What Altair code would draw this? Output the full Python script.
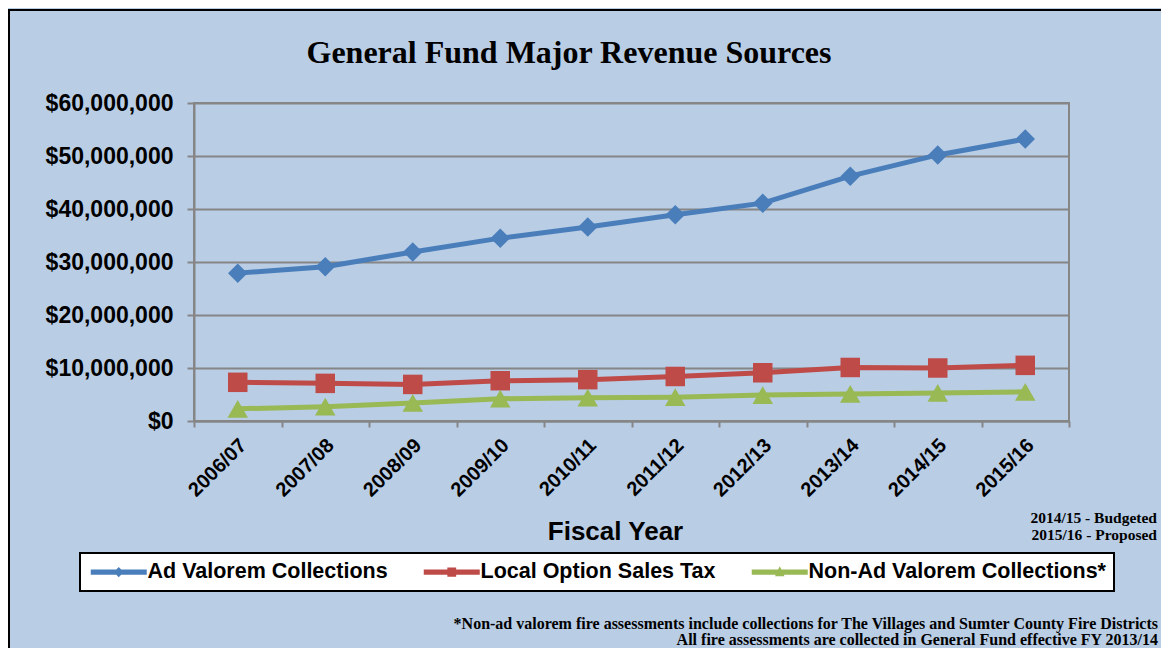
import altair as alt
import pandas as pd

years = ["2006/07", "2007/08", "2008/09", "2009/10", "2010/11",
         "2011/12", "2012/13", "2013/14", "2014/15", "2015/16"]
series_names = ["Ad Valorem Collections", "Local Option Sales Tax", "Non-Ad Valorem Collections*"]
ad_valorem = [27.9e6, 29.1e6, 31.9e6, 34.5e6, 36.6e6, 38.9e6, 41.1e6, 46.2e6, 50.2e6, 53.2e6]
sales_tax = [7.3e6, 7.1e6, 6.9e6, 7.6e6, 7.8e6, 8.4e6, 9.1e6, 10.1e6, 10.0e6, 10.5e6]
non_ad_valorem = [2.3e6, 2.7e6, 3.4e6, 4.2e6, 4.4e6, 4.5e6, 4.9e6, 5.1e6, 5.3e6, 5.5e6]
y_ticks = [0, 10e6, 20e6, 30e6, 40e6, 50e6, 60e6]
title_text = ["General Fund Major Revenue Sources"]
notes = ["2014/15 - Budgeted", "2015/16 - Proposed"]
footnotes = ["*Non-ad valorem fire assessments include collections for The Villages and Sumter County Fire Districts",
             "All fire assessments are collected in General Fund effective FY 2013/14"]

colors = ["#4A7EBB", "#BE4B48", "#98B954"]
shapes = ["diamond", "square", "triangle-up"]
sizes = [380, 380, 420]
legend_paths = [
    "M-3.5,-0.33 L-0.3,-0.33 L0,-0.63 L0.3,-0.33 L3.5,-0.33 L3.5,0.33 L0.3,0.33 L0,0.63 L-0.3,0.33 L-3.5,0.33 Z",
    "M-3.5,-0.33 L-0.55,-0.33 L-0.55,-0.58 L0.55,-0.58 L0.55,-0.33 L3.5,-0.33 L3.5,0.33 L0.55,0.33 L0.55,0.58 L-0.55,0.58 L-0.55,0.33 L-3.5,0.33 Z",
    "M-3.5,-0.33 L-0.2,-0.33 L0,-0.75 L0.2,-0.33 L3.5,-0.33 L3.5,0.33 L0.5,0.33 L0.6,0.52 L-0.6,0.52 L-0.5,0.33 L-3.5,0.33 Z",
]

rows = []
for name, vals in zip(series_names, [ad_valorem, sales_tax, non_ad_valorem]):
    for yr, v in zip(years, vals):
        rows.append({"year": yr, "series": name, "value": v})
df = pd.DataFrame(rows)

SANS = "Liberation Sans"
SERIF = "Liberation Serif"
GRID = "#868686"

x_enc = alt.X(
    "year:N", sort=years, bandPosition=0.5,
    scale=alt.Scale(type="band", paddingInner=0, paddingOuter=0),
    axis=alt.Axis(
        title="Fiscal Year", titleFont=SANS, titleFontSize=26, titleFontWeight="bold",
        titleColor="black", titleX=421, titleY=118, titleAlign="center",
        titleBaseline="alphabetic",
        labelAngle=-45, labelAlign="right", labelBaseline="middle",
        labelFont=SANS, labelFontSize=20, labelFontWeight="bold", labelColor="black",
        labelPadding=15, labelOffset=5, labelOverlap=False, tickSize=6, tickBand="extent",
        tickColor=GRID, tickWidth=2, domainColor=GRID, domainWidth=2, grid=False,
    ),
)
y_enc = alt.Y(
    "value:Q",
    scale=alt.Scale(domain=[0, 60e6], nice=False),
    axis=alt.Axis(
        title=None, values=y_ticks, format="$,.0f",
        labelFont=SANS, labelFontSize=23, labelFontWeight="bold", labelColor="black",
        labelPadding=14, tickSize=7, tickColor=GRID, tickWidth=2,
        domainColor=GRID, domainWidth=2, grid=True, gridColor=GRID, gridWidth=2,
    ),
)

base = alt.Chart(df)
layers = []
for name, col, shp, sz in zip(series_names, colors, shapes, sizes):
    sub = base.transform_filter(alt.datum.series == name)
    layers.append(sub.mark_line(color=col, strokeWidth=5).encode(x=x_enc, y=y_enc))
    layers.append(sub.mark_point(shape=shp, size=sz, filled=True, color=col, opacity=1)
                  .encode(x=x_enc, y=y_enc))

leg = alt.Legend(
    title=None, orient="none", legendX=-114, legendY=450,
    direction="horizontal", columns=3, columnPadding=33,
    symbolSize=256, symbolOffset=20, labelOffset=18, labelLimit=500,
    symbolStrokeWidth=0,
    labelFont=SANS, labelFontSize=21.5, labelFontWeight="bold",
    labelColor="black", padding=8, fillColor="white", strokeColor="black")

legend_layer = base.transform_filter("false").mark_point(filled=True, opacity=1).encode(
    color=alt.Color("series:N", scale=alt.Scale(domain=series_names, range=colors), legend=leg),
    shape=alt.Shape("series:N", scale=alt.Scale(domain=series_names, range=legend_paths), legend=leg),
)

title_layer = alt.Chart(pd.DataFrame({"t": title_text})).mark_text(
    font=SERIF, fontSize=32, fontWeight="bold", align="center", baseline="alphabetic", color="black"
).encode(text="t:N", x=alt.value(375), y=alt.value(-40))

notes_df = pd.DataFrame({"t": notes, "yy": [420, 437]})
notes_layer = alt.Chart(notes_df).mark_text(
    font=SERIF, fontSize=15.5, fontWeight="bold", align="right", baseline="alphabetic", color="black"
).encode(text="t:N", x=alt.value(963), y=alt.Y("yy:Q", scale=None))

foot_df = pd.DataFrame({"t": footnotes, "yy": [526, 542]})
foot_layer = alt.Chart(foot_df).mark_text(
    font=SERIF, fontSize=16, fontWeight="bold", align="right", baseline="alphabetic", color="black"
).encode(text="t:N", x=alt.value(964), y=alt.Y("yy:Q", scale=None))

border = alt.Chart(alt.Data(values=[{"a": 1}])).mark_rect(
    fill="transparent", stroke="black", strokeWidth=2
).encode(x=alt.value(-185), x2=alt.value(1000), y=alt.value(-93), y2=alt.value(600))

chart = alt.layer(*layers, legend_layer, title_layer, notes_layer, foot_layer, border).properties(
    width=875, height=318,
    background="#B9CDE5",
    autosize=alt.AutoSizeParams(type="none"),
    padding={"left": 186, "top": 95, "right": 92, "bottom": 227},
).configure_view(
    fill="#D9D9D9", stroke=GRID, strokeWidth=2
).configure_legend(strokeWidth=2)

chart.save("out.html", embed_options={"renderer": "svg", "actions": False})
